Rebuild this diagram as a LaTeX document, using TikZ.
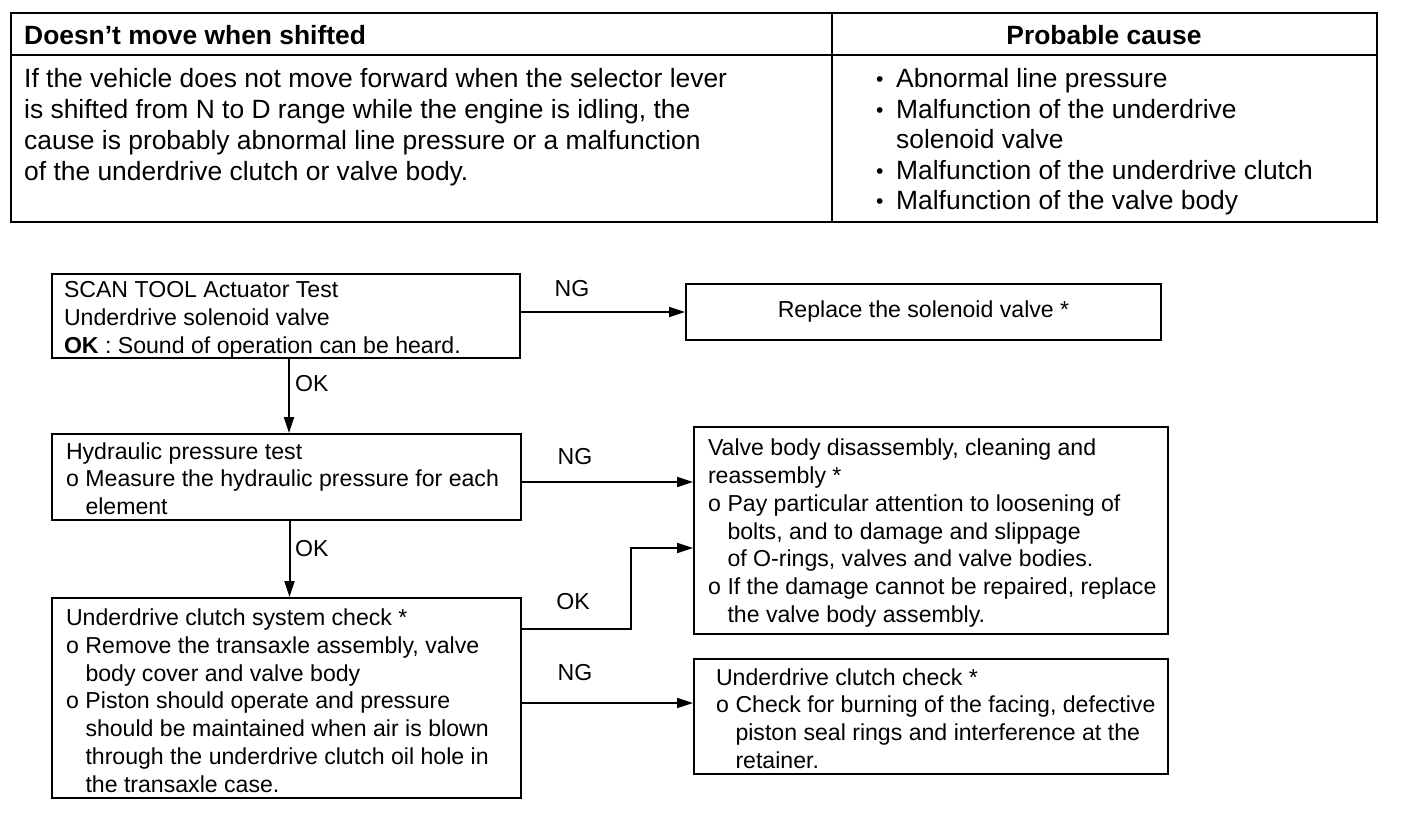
\documentclass[tikz,border=0pt]{standalone}
\usepackage{fontspec}
\setmainfont{Liberation Sans}
\usetikzlibrary{arrows.meta,calc}
\newcommand\ob{\makebox[19.5pt][l]{o}}
\newcommand\ind{\hspace*{19.5pt}}
\newcommand\bul{\makebox[20pt][l]{\raisebox{1pt}{\scalebox{0.8}{•}}}}
\newcommand\toprule[1]{\rule{0pt}{#1}}
\begin{document}
\begin{tikzpicture}[x=1pt,y=-1pt,
  frame/.style={line width=2pt},
  box/.style={draw,line width=2pt,inner xsep=6pt,inner ysep=0pt,align=flush left,
    font=\fontsize{23.1}{27.8}\selectfont,anchor=center},
  cbox/.style={draw,line width=2pt,inner sep=0pt,align=center,
    font=\fontsize{23.1}{27.8}\selectfont,anchor=center},
  lbl/.style={font=\fontsize{23.1}{28}\selectfont,inner sep=0pt},
  ttext/.style={font=\fontsize{26.4}{31}\selectfont,inner sep=0pt,align=flush left},
  thead/.style={font=\fontsize{26.4}{31}\selectfont\bfseries,inner sep=0pt},
  arr/.style={line width=2pt,-{Triangle[length=16pt,width=10pt]}}]
\useasboundingbox (0,0) rectangle (1408,834);
% ---- top table ----
\draw[frame] (11,13) rectangle (1377,222);
\draw[frame] (11,55) -- (1377,55);
\draw[frame] (832,13) -- (832,222);
\node[thead,anchor=west] (h1) at (24,35) {Doesn’t move when shifted};
\node[thead] (h2) at (1104,35) {Probable cause};
\node[ttext,anchor=west] (d1) at (24,127) {If the vehicle does not move forward when the selector lever\\
is shifted from N to D range while the engine is idling, the\\
cause is probably abnormal line pressure or a malfunction\\
of the underdrive clutch or valve body.};
\node[ttext,anchor=west,font=\fontsize{26.4}{30.5}\selectfont] (d2) at (876,142) {\bul Abnormal line pressure\\
\bul Malfunction of the underdrive\\
\hspace*{20pt}solenoid valve\\
\bul Malfunction of the underdrive clutch\\
\bul Malfunction of the valve body};
% ---- flow chart ----
\node[box,text width=456pt,minimum height=84pt] (A) at (286,316)
 {\leftskip=6pt\toprule{24pt}SCAN TOOL Actuator Test\\Underdrive solenoid valve\\\textbf{OK} : Sound of operation can be heard.\par};
\node[cbox,minimum width=475pt,minimum height=56pt] (R) at (923.5,312)
 {Replace the solenoid valve *};
\node[box,text width=457pt,minimum height=86pt] (B) at (286.5,477)
 {\leftskip=8pt\toprule{20pt}Hydraulic pressure test\\\ob Measure the hydraulic pressure for each\\\ind element\par};
\node[box,text width=462pt,minimum height=207pt] (V) at (931,530.5)
 {\leftskip=8pt\toprule{22pt}Valve body disassembly, cleaning and\\reassembly *\\
 \ob Pay particular attention to loosening of\\\ind bolts, and to damage and slippage\\
 \ind of O-rings, valves and valve bodies.\\
 \ob If the damage cannot be repaired, replace\\\ind the valve body assembly.\par};
\node[box,text width=457pt,minimum height=200pt] (C) at (286.5,698)
 {\leftskip=8pt\toprule{22pt}Underdrive clutch system check *\\
 \ob Remove the transaxle assembly, valve\\\ind body cover and valve body\\
 \ob Piston should operate and pressure\\\ind should be maintained when air is blown\\
 \ind through the underdrive clutch oil hole in\\\ind the transaxle case.\par};
\node[box,text width=462pt,minimum height=115pt] (U) at (931,716.5)
 {\leftskip=16pt\toprule{21pt}Underdrive clutch check *\\
 \ob Check for burning of the facing, defective\\\ind piston seal rings and interference at the\\\ind retainer.\par};
% connectors
\draw[arr] (A.east |- R.west) -- (R.west);
\draw[arr] ([xshift=3pt]A.south) -- ([xshift=3pt]A.south |- B.north);
\draw[arr] ([xshift=3pt]B.south) -- ([xshift=3pt]B.south |- C.north);
\coordinate (nB) at ($(B.east)+(0,5)$);
\draw[arr] (nB) -- (nB -| V.west);
\coordinate (oC) at ($(C.east)+(0,-69)$);
\coordinate (vIn) at ($(V.west)+(0,17.5)$);
\draw[arr] (oC) -- ++(109,0) |- (vIn);
\coordinate (nC) at ($(C.east)+(0,5)$);
\draw[arr] (nC) -- (nC -| U.west);
% labels
\node[lbl] (l1) at (572,289) {NG};
\node[lbl,anchor=west] (l2) at (295,384) {OK};
\node[lbl] (l3) at (575,457) {NG};
\node[lbl,anchor=west] (l4) at (295,549) {OK};
\node[lbl] (l5) at (573,602) {OK};
\node[lbl] (l6) at (575,673) {NG};
\end{tikzpicture}
\end{document}
